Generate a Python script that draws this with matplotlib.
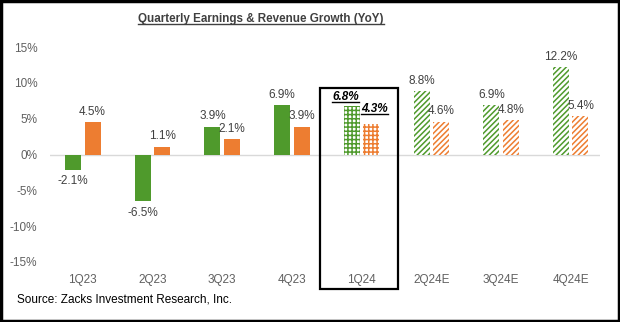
import matplotlib.pyplot as plt
from matplotlib.patches import Rectangle
from matplotlib.lines import Line2D
import numpy as np

# data
quarters = ['1Q23', '2Q23', '3Q23', '4Q23', '1Q24', '2Q24E', '3Q24E', '4Q24E']
earnings = [-2.1, -6.5, 3.9, 6.9, 6.8, 8.8, 6.9, 12.2]
revenue = [4.5, 1.1, 2.1, 3.9, 4.3, 4.6, 4.8, 5.4]
yticks = [-15, -10, -5, 0, 5, 10, 15]
current_idx = 4  # 1Q24, the reporting quarter

green = '#4f9a2c'
orange = '#ed7d31'
label_col = '#404040'
tick_col = '#606060'

plt.rcParams['font.family'] = ['Liberation Sans', 'DejaVu Sans']
plt.rcParams['hatch.linewidth'] = 1.1

fig = plt.figure(figsize=(6.2, 3.22), dpi=100)
ax = fig.add_axes([50/620, 60/322, 550/620, 215/322])

x = np.arange(len(quarters))
w = 0.23
off = 0.14

for i in x:
    e, r = earnings[i], revenue[i]
    if i < current_idx:
        ax.bar(i - off, e, w, color=green, linewidth=0)
        ax.bar(i + off, r, w, color=orange, linewidth=0)
    elif i == current_idx:
        ax.bar(i - off, e, w, facecolor='white', edgecolor=green, hatch='++++', linewidth=0)
        ax.bar(i + off, r, w, facecolor='white', edgecolor=orange, hatch='++++', linewidth=0)
    else:
        ax.bar(i - off, e, w, facecolor='white', edgecolor=green, hatch='//////', linewidth=0)
        ax.bar(i + off, r, w, facecolor='white', edgecolor=orange, hatch='//////', linewidth=0)

# value labels
lbls = []
for i in x:
    for v, dx, shift, up in ((earnings[i], -off, -0.09, 2), (revenue[i], off, 0.05, 6)):
        if i == current_idx:
            t = ax.annotate(f'{v:.1f}%', (i + dx + shift, v), xytext=(0, up),
                            textcoords='offset points', ha='center', va='bottom',
                            fontsize=8.5, fontweight='bold', fontstyle='italic', color='black')
            lbls.append(t)
        elif v >= 0:
            ax.annotate(f'{v:.1f}%', (i + dx, v), xytext=(0, 3), textcoords='offset points',
                        ha='center', va='bottom', fontsize=8.5, color=label_col)
        else:
            ax.annotate(f'{v:.1f}%', (i + dx, v), xytext=(0, -4), textcoords='offset points',
                        ha='center', va='top', fontsize=8.5, color=label_col)

ax.axhline(0, color='#d9d9d9', linewidth=1, zorder=0)
ax.set_xlim(-0.47, 7.42)
ax.set_ylim(-15, 15)
ax.set_yticks(yticks)
ax.set_yticklabels([f'{t}%' for t in yticks])
ax.set_xticks(x)
ax.set_xticklabels(quarters)
ax.tick_params(axis='both', length=0, labelsize=8.5, labelcolor=tick_col)
ax.tick_params(axis='y', pad=9)
ax.tick_params(axis='x', pad=9)
for s in ax.spines.values():
    s.set_visible(False)

# box round the current quarter
ax.add_patch(Rectangle((current_idx - 0.59, -18.75), 1.11, 28.05, fill=False,
                       edgecolor='black', linewidth=1.6, clip_on=False, zorder=5))

title = fig.text(261/620, 1 - 19/322, 'Quarterly Earnings & Revenue Growth (YoY)', ha='center',
                 va='center', fontsize=8.4, fontweight='bold', color=label_col)
fig.text(17/620, 1 - 300/322, 'Source: Zacks Investment Research, Inc.', ha='left',
         va='center', fontsize=8.5, color='black')

# outer frame
fig.patches.append(Rectangle((0.002, 0.004), 0.996, 0.992, transform=fig.transFigure,
                             fill=False, edgecolor='black', linewidth=2.5))

# underline title and the 1Q24 labels
fig.canvas.draw()
r = fig.canvas.get_renderer()
inv = fig.transFigure.inverted()
for t in [title] + lbls:
    bb = t.get_window_extent(r)
    (x0, y0), (x1, y1) = inv.transform([(bb.x0, bb.y0), (bb.x1, bb.y1)])
    col = label_col if t is title else 'black'
    fig.add_artist(Line2D([x0, x1], [y0 + 0.004, y0 + 0.004], transform=fig.transFigure,
                          color=col, linewidth=1.0))

fig.savefig('out.png', dpi=100)
